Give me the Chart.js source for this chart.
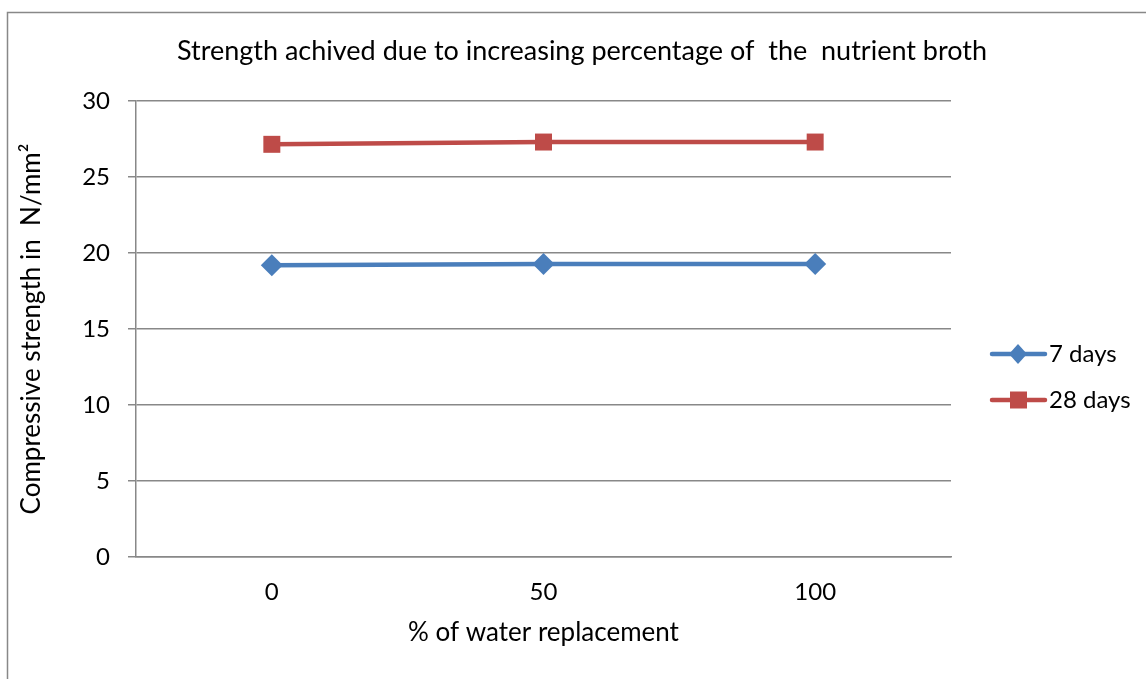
<!DOCTYPE html>
<html>
<head>
<meta charset="utf-8">
<script src="https://cdn.jsdelivr.net/npm/chart.js@4/dist/chart.umd.min.js"></script>
<style>
  html, body { margin: 0; padding: 0; background: #fff; }
  #wrap { width: 1146px; height: 679px; }
</style>
</head>
<body>
<div id="wrap"><canvas id="myChart" width="1146" height="679"></canvas></div>
<script>
// data
const categories = ['0', '50', '100'];
const days7 = [19.2, 19.27, 19.27];
const days28 = [27.15, 27.3, 27.3];
const seriesNames = ['7 days', '28 days'];
const yTicks = [0, 5, 10, 15, 20, 25, 30];
const chartTitle = 'Strength achived due to increasing percentage of  the  nutrient broth';

const FONT = 'Lato, "Open Sans", sans-serif';
const BLUE = '#4a7ebb';
const RED = '#be4b48';
const GREY = '#888888';

/**
 * Outer frame, title and the legend (line + marker), drawn by hand
 */
const frameAndLegend = {
    id: 'frameAndLegend',
    afterDraw(chart) {
        const ctx = chart.ctx;
        ctx.save();
        ctx.strokeStyle = GREY;
        ctx.lineWidth = 1.5;
        ctx.strokeRect(7.5, 12.5, 1160, 700);

        // title
        ctx.fillStyle = '#000';
        ctx.font = '27px ' + FONT;
        ctx.textAlign = 'center';
        ctx.textBaseline = 'middle';
        ctx.fillText(chartTitle, 582, 51);

        chart.data.datasets.forEach((ds, i) => {
            let y = 354 + i * 46;
            ctx.strokeStyle = ds.borderColor;
            ctx.lineWidth = 4.5;
            ctx.lineCap = 'round';
            ctx.beginPath();
            ctx.moveTo(992, y);
            ctx.lineTo(1045, y);
            ctx.stroke();
            ctx.fillStyle = ds.backgroundColor;
            ctx.beginPath();
            if (ds.pointStyle === 'rectRot') {
                ctx.moveTo(1018, y - 10);
                ctx.lineTo(1027, y);
                ctx.lineTo(1018, y + 10);
                ctx.lineTo(1009, y);
                ctx.closePath();
            } else {
                ctx.rect(1010, y - 8.5, 17, 17);
            }
            ctx.fill();
            ctx.fillStyle = '#000';
            ctx.font = '24px ' + FONT;
            ctx.textBaseline = 'middle';
            ctx.textAlign = 'left';
            ctx.fillText(ds.label, 1049, y);
        });
        ctx.restore();
    }
};

const ctx = document.getElementById('myChart').getContext('2d');
const myChart = new Chart(ctx, {
    type: 'line',
    data: {
        labels: categories,
        datasets: [{
            label: seriesNames[0],
            data: days7,
            borderColor: BLUE,
            backgroundColor: BLUE,
            borderWidth: 4.5,
            pointStyle: 'rectRot',
            pointRadius: 11,
            pointHoverRadius: 11,
            pointBorderWidth: 0,
            tension: 0
        }, {
            label: seriesNames[1],
            data: days28,
            borderColor: RED,
            backgroundColor: RED,
            borderWidth: 4.5,
            pointStyle: 'rect',
            pointRadius: 12,
            pointHoverRadius: 12,
            pointBorderWidth: 0,
            tension: 0
        }]
    },
    options: {
        responsive: false,
        animation: false,
        layout: { padding: { left: 0, right: 195, top: 101, bottom: 0 } },
        plugins: {
            legend: { display: false },
            tooltip: { enabled: false },
            title: { display: false }
        },
        scales: {
            x: {
                offset: true,
                grid: { display: false, drawTicks: false },
                border: { display: true, color: GREY, width: 1.5 },
                ticks: {
                    color: '#000',
                    padding: 21,
                    font: { family: FONT, size: 24 }
                },
                title: {
                    display: true,
                    text: '% of water replacement',
                    color: '#000',
                    font: { family: FONT, size: 26 },
                    padding: { top: 0, bottom: 31 }
                },
                afterFit(scale) { scale.height = 122; }
            },
            y: {
                min: 0,
                max: 30,
                afterBuildTicks(scale) { scale.ticks = yTicks.map(v => ({ value: v })); },
                grid: { color: GREY, lineWidth: 1.5, tickLength: 8, tickColor: GREY },
                border: { display: true, color: GREY, width: 1.5 },
                ticks: {
                    color: '#000',
                    padding: 18,
                    font: { family: FONT, size: 24 }
                },
                title: {
                    display: true,
                    text: 'Compressive strength in  N/mm²',
                    color: '#000',
                    font: { family: FONT, size: 26 },
                    padding: { top: 16, bottom: 0 }
                },
                afterFit(scale) { scale.width = 136; }
            }
        }
    },
    plugins: [frameAndLegend]
});
</script>
</body>
</html>
